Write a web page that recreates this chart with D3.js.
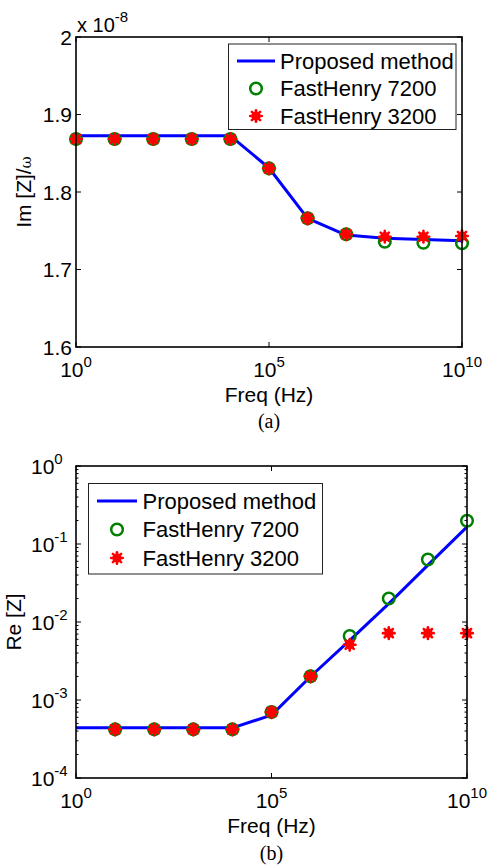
<!DOCTYPE html>
<html>
<head>
<meta charset="utf-8">
<script src="https://cdn.jsdelivr.net/npm/d3@7"></script>
<style>
  html, body { margin: 0; padding: 0; background: #fff; }
  svg { display: block; }
  text { font-family: "Liberation Sans", Arial, Helvetica, sans-serif; fill: #000; }
</style>
</head>
<body>
<svg id="fig" width="487" height="867"></svg>
<script>
// Frequency sweep (Hz), one point per decade
const freq = [1e0, 1e1, 1e2, 1e3, 1e4, 1e5, 1e6, 1e7, 1e8, 1e9, 1e10];

// (a) Im[Z]/omega, in units of 1e-8
const imProposed = [1.8725, 1.8725, 1.8725, 1.8725, 1.8725, 1.831, 1.766, 1.7445, 1.7403, 1.7387, 1.7372];
const imFH7200   = [1.8684, 1.8684, 1.8684, 1.8684, 1.8684, 1.8305, 1.766, 1.7454, 1.7359, 1.7346, 1.7338];
const imFH3200   = [1.8684, 1.8684, 1.8684, 1.8684, 1.8684, 1.8305, 1.766, 1.7454, 1.7423, 1.7423, 1.7432];
const imExponent = -8;
const imYTicks = [1.6, 1.7, 1.8, 1.9, 2];
const imYTickLabels = ["1.6", "1.7", "1.8", "1.9", "2"];

// (b) Re[Z]
const reProposed = [4.4e-4, 4.4e-4, 4.4e-4, 4.4e-4, 4.4e-4, 6.4e-4, 2.0e-3, 5.8e-3, 1.72e-2, 5.35e-2, 1.66e-1];
const reMarkerFreq = [1e1, 1e2, 1e3, 1e4, 1e5, 1e6, 1e7, 1e8, 1e9, 1e10];
const reFH7200 = [4.2e-4, 4.2e-4, 4.2e-4, 4.2e-4, 7.0e-4, 2.01e-3, 6.6e-3, 2.0e-2, 6.34e-2, 1.99e-1];
const reFH3200 = [4.2e-4, 4.2e-4, 4.2e-4, 4.2e-4, 7.0e-4, 2.01e-3, 5.1e-3, 7.2e-3, 7.2e-3, 7.2e-3];
const reYTickExps = [-4, -3, -2, -1, 0];

const xTickExps = [0, 5, 10];
const legendNames = ["Proposed method", "FastHenry 7200", "FastHenry 3200"];

const BLUE = "#0000ff", GREEN = "#008000", RED = "#ff0000";
const svg = d3.select("#fig");

// MATLAB-style '*' marker drawn thick enough to read as a filled blob
function drawStar(g, x, y) {
  const s = g.append("g").attr("transform", `translate(${x},${y})`);
  s.append("circle").attr("r", 4.6).attr("fill", RED);
  [0, 45, 90, 135].forEach(a => {
    s.append("line").attr("x1", -5.8).attr("x2", 5.8).attr("y1", 0).attr("y2", 0)
      .attr("transform", `rotate(${a})`)
      .attr("stroke", RED).attr("stroke-width", 2.6).attr("stroke-linecap", "round");
  });
}
function drawRing(g, x, y) {
  g.append("circle").attr("cx", x).attr("cy", y).attr("r", 5.8)
    .attr("fill", "none").attr("stroke", GREEN).attr("stroke-width", 2.5);
}

// Power-of-ten label: "10" plus a raised exponent
function powLabel(g, x, y, exp, anchor) {
  const t = g.append("text").attr("x", x).attr("y", y).attr("font-size", 21)
    .attr("text-anchor", anchor);
  t.append("tspan").text("10");
  t.append("tspan").attr("dy", -10).attr("font-size", 15).text(String(exp));
  return t;
}

function legend(g, x0, y0, w, h, textX, sampleX0, sampleX1, rowY) {
  g.append("rect").attr("x", x0).attr("y", y0).attr("width", w).attr("height", h)
    .attr("fill", "#fff").attr("stroke", "#222").attr("stroke-width", 1);
  const mx = (sampleX0 + sampleX1) / 2;
  g.append("line").attr("x1", sampleX0).attr("x2", sampleX1)
    .attr("y1", rowY[0]).attr("y2", rowY[0]).attr("stroke", BLUE).attr("stroke-width", 3);
  drawRing(g, mx, rowY[1]);
  drawStar(g, mx, rowY[2]);
  legendNames.forEach((n, i) => {
    g.append("text").attr("x", textX).attr("y", rowY[i] + 7.8)
      .attr("font-size", 22).text(n);
  });
}

// ---------- (a) Im[Z]/omega ----------
(function () {
  const L = 76, R = 462, T = 37, B = 347;
  const x = d3.scaleLog().domain([1e0, 1e10]).range([L, R]);
  const y = d3.scaleLinear().domain([1.6, 2]).range([B, T]);
  const g = svg.append("g");

  const line = d3.line().x((d, i) => x(freq[i])).y(d => y(d));
  g.append("path").datum(imProposed).attr("d", line)
    .attr("fill", "none").attr("stroke", BLUE).attr("stroke-width", 3)
    .attr("stroke-linejoin", "round");
  imFH7200.forEach((v, i) => drawRing(g, x(freq[i]), y(v)));
  imFH3200.forEach((v, i) => drawStar(g, x(freq[i]), y(v)));

  g.append("rect").attr("x", L).attr("y", T).attr("width", R - L).attr("height", B - T)
    .attr("fill", "none").attr("stroke", "#000").attr("stroke-width", 1.6);

  const tl = 5;
  imYTicks.forEach((v, i) => {
    const yy = y(v);
    g.append("line").attr("x1", L).attr("x2", L + tl).attr("y1", yy).attr("y2", yy).attr("stroke", "#000");
    g.append("line").attr("x1", R).attr("x2", R - tl).attr("y1", yy).attr("y2", yy).attr("stroke", "#000");
    g.append("text").attr("x", L - 4).attr("y", yy + 7.5).attr("font-size", 21)
      .attr("text-anchor", "end").text(imYTickLabels[i]);
  });
  xTickExps.forEach(e => {
    const xx = x(Math.pow(10, e));
    g.append("line").attr("x1", xx).attr("x2", xx).attr("y1", B).attr("y2", B - tl).attr("stroke", "#000");
    g.append("line").attr("x1", xx).attr("x2", xx).attr("y1", T).attr("y2", T + tl).attr("stroke", "#000");
    powLabel(g, xx, B + 30, e, "middle");
  });

  // scale factor above the y axis
  const ex = g.append("text").attr("x", L + 1).attr("y", T - 5).attr("font-size", 20);
  ex.append("tspan").text("x 10");
  ex.append("tspan").attr("dy", -10).attr("font-size", 15).text(String(imExponent));

  g.append("text").attr("x", (L + R) / 2).attr("y", B + 55).attr("font-size", 21)
    .attr("text-anchor", "middle").text("Freq (Hz)");
  const yl = g.append("text").attr("transform", `translate(31,${(T + B) / 2}) rotate(-90)`)
    .attr("font-size", 21).attr("text-anchor", "middle");
  yl.append("tspan").text("Im [Z]/");
  yl.append("tspan").attr("font-size", 15).attr("font-family", "DejaVu Serif, serif").text("ω");
  g.append("text").attr("x", (L + R) / 2).attr("y", 428).attr("font-size", 20)
    .attr("text-anchor", "middle").style("font-family", "Liberation Serif, Times New Roman, serif")
    .text("(a)");

  legend(g, 228.5, 44, 227.5, 85.5, 280, 237, 275, [61, 88.5, 116]);
})();

// ---------- (b) Re[Z] ----------
(function () {
  const L = 76, R = 467, T = 466, B = 778;
  const x = d3.scaleLog().domain([1e0, 1e10]).range([L, R]);
  const y = d3.scaleLog().domain([1e-4, 1e0]).range([B, T]);
  const g = svg.append("g");

  const line = d3.line().x((d, i) => x(freq[i])).y(d => y(d));
  g.append("path").datum(reProposed).attr("d", line)
    .attr("fill", "none").attr("stroke", BLUE).attr("stroke-width", 3)
    .attr("stroke-linejoin", "round");
  reFH7200.forEach((v, i) => drawRing(g, x(reMarkerFreq[i]), y(v)));
  reFH3200.forEach((v, i) => drawStar(g, x(reMarkerFreq[i]), y(v)));

  g.append("rect").attr("x", L).attr("y", T).attr("width", R - L).attr("height", B - T)
    .attr("fill", "none").attr("stroke", "#000").attr("stroke-width", 1.6);

  const tl = 5, tm = 2.5;
  reYTickExps.forEach((e, k) => {
    const yy = y(Math.pow(10, e));
    g.append("line").attr("x1", L).attr("x2", L + tl).attr("y1", yy).attr("y2", yy).attr("stroke", "#000");
    g.append("line").attr("x1", R).attr("x2", R - tl).attr("y1", yy).attr("y2", yy).attr("stroke", "#000");
    powLabel(g, 31, yy + 8, e, "start");
    if (k < reYTickExps.length - 1) {
      for (let m = 2; m <= 9; m++) {
        const ym = y(m * Math.pow(10, e));
        g.append("line").attr("x1", L).attr("x2", L + tm).attr("y1", ym).attr("y2", ym).attr("stroke", "#000");
        g.append("line").attr("x1", R).attr("x2", R - tm).attr("y1", ym).attr("y2", ym).attr("stroke", "#000");
      }
    }
  });
  xTickExps.forEach(e => {
    const xx = x(Math.pow(10, e));
    g.append("line").attr("x1", xx).attr("x2", xx).attr("y1", B).attr("y2", B - tl).attr("stroke", "#000");
    g.append("line").attr("x1", xx).attr("x2", xx).attr("y1", T).attr("y2", T + tl).attr("stroke", "#000");
    powLabel(g, xx, B + 30, e, "middle");
  });

  g.append("text").attr("x", (L + R) / 2).attr("y", B + 55).attr("font-size", 21)
    .attr("text-anchor", "middle").text("Freq (Hz)");
  g.append("text").attr("transform", `translate(21,${(T + B) / 2}) rotate(-90)`)
    .attr("font-size", 21).attr("text-anchor", "middle").text("Re [Z]");
  g.append("text").attr("x", (L + R) / 2).attr("y", 860).attr("font-size", 20)
    .attr("text-anchor", "middle").style("font-family", "Liberation Serif, Times New Roman, serif")
    .text("(b)");

  legend(g, 88.5, 483.5, 234, 90.5, 142.5, 97, 137, [501, 529.5, 558]);
})();
</script>
</body>
</html>
